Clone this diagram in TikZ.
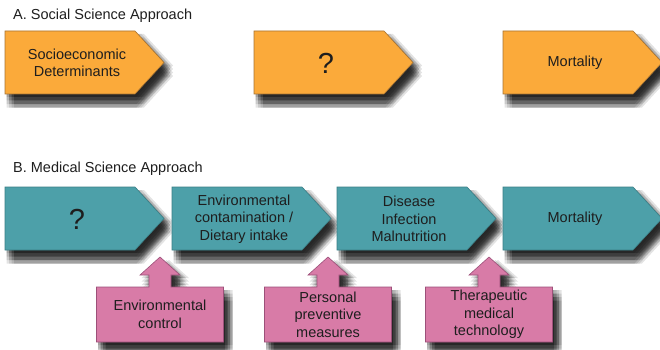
\documentclass[tikz,border=0pt]{standalone}
\usepackage{fontspec}
\setmainfont{Liberation Sans}
\definecolor{orangeF}{HTML}{FBAA3A}
\definecolor{orangeD}{HTML}{A87432}
\definecolor{tealF}{HTML}{4DA0A9}
\definecolor{tealD}{HTML}{3A7E86}
\definecolor{pinkF}{HTML}{D87BA7}
\definecolor{pinkD}{HTML}{9C5079}
\definecolor{txt}{HTML}{1E1E1E}
\tikzset{
  shapeline/.style={line width=0.6pt},
  shadowlayer/.style={fill=black, opacity=0.11},
  lbl/.style={align=center, text=txt, font=\fontsize{14.5}{17.5}\selectfont, inner sep=0pt},
  ttl/.style={anchor=west, text=txt, font=\fontsize{14.5}{17.5}\selectfont, inner sep=0pt}
}
\newcommand\myshadowed[2]{%
  \foreach \dx in {1.5,4,6.5,9} {\foreach \dy in {3,6.5,10,13.5} {\fill[shadowlayer, shift={(\dx,\dy)}] #2;}}
  \draw[shapeline, #1] #2;}
\newcommand\mychev[6]{%
  \myshadowed{fill=#4, draw=#5}{(#2,#3) -- ++(130,0) -- ++(29,31.5) -- ++(-29,31.5) -- ++(-130,0) -- cycle}
  \node[lbl] (#1) at (#2+72,#3+32) {#6};}
\newcommand\mypink[3]{%
  \myshadowed{fill=pinkF, draw=pinkD}{(#2-63.5,287) -- (#2-11,287) -- (#2-11,275) -- (#2-20,275) -- (#2,257) -- (#2+20,275) -- (#2+11,275) -- (#2+11,287) -- (#2+63.5,287) -- (#2+63.5,342) -- (#2-63.5,342) -- cycle}
  \node[lbl] (#1) at (#2,314.5) {#3};}
\begin{document}
\begin{tikzpicture}[x=1pt,y=-1pt]
\useasboundingbox (0,0) rectangle (660,350);
\node[ttl] (titleA) at (13,15.5) {A. Social Science Approach};
\mychev{a1}{5}{31}{orangeF}{orangeD}{Socioeconomic\\Determinants}
\mychev{a2}{254}{31}{orangeF}{orangeD}{\fontsize{29}{30}\selectfont ?}
\mychev{a3}{503}{31}{orangeF}{orangeD}{Mortality}
\node[ttl] (titleB) at (13,168.8) {B. Medical Science Approach};
\mychev{b1}{5}{187}{tealF}{tealD}{\fontsize{29}{30}\selectfont ?}
\mychev{b2}{172}{187}{tealF}{tealD}{Environmental\\contamination /\\Dietary intake}
\mychev{b3}{337}{187}{tealF}{tealD}{Disease\\Infection\\Malnutrition}
\mychev{b4}{503}{187}{tealF}{tealD}{Mortality}
\mypink{p1}{160}{Environmental\\control}
\mypink{p2}{328}{Personal\\preventive\\measures}
\mypink{p3}{489}{Therapeutic\\medical\\technology}
\end{tikzpicture}
\end{document}
